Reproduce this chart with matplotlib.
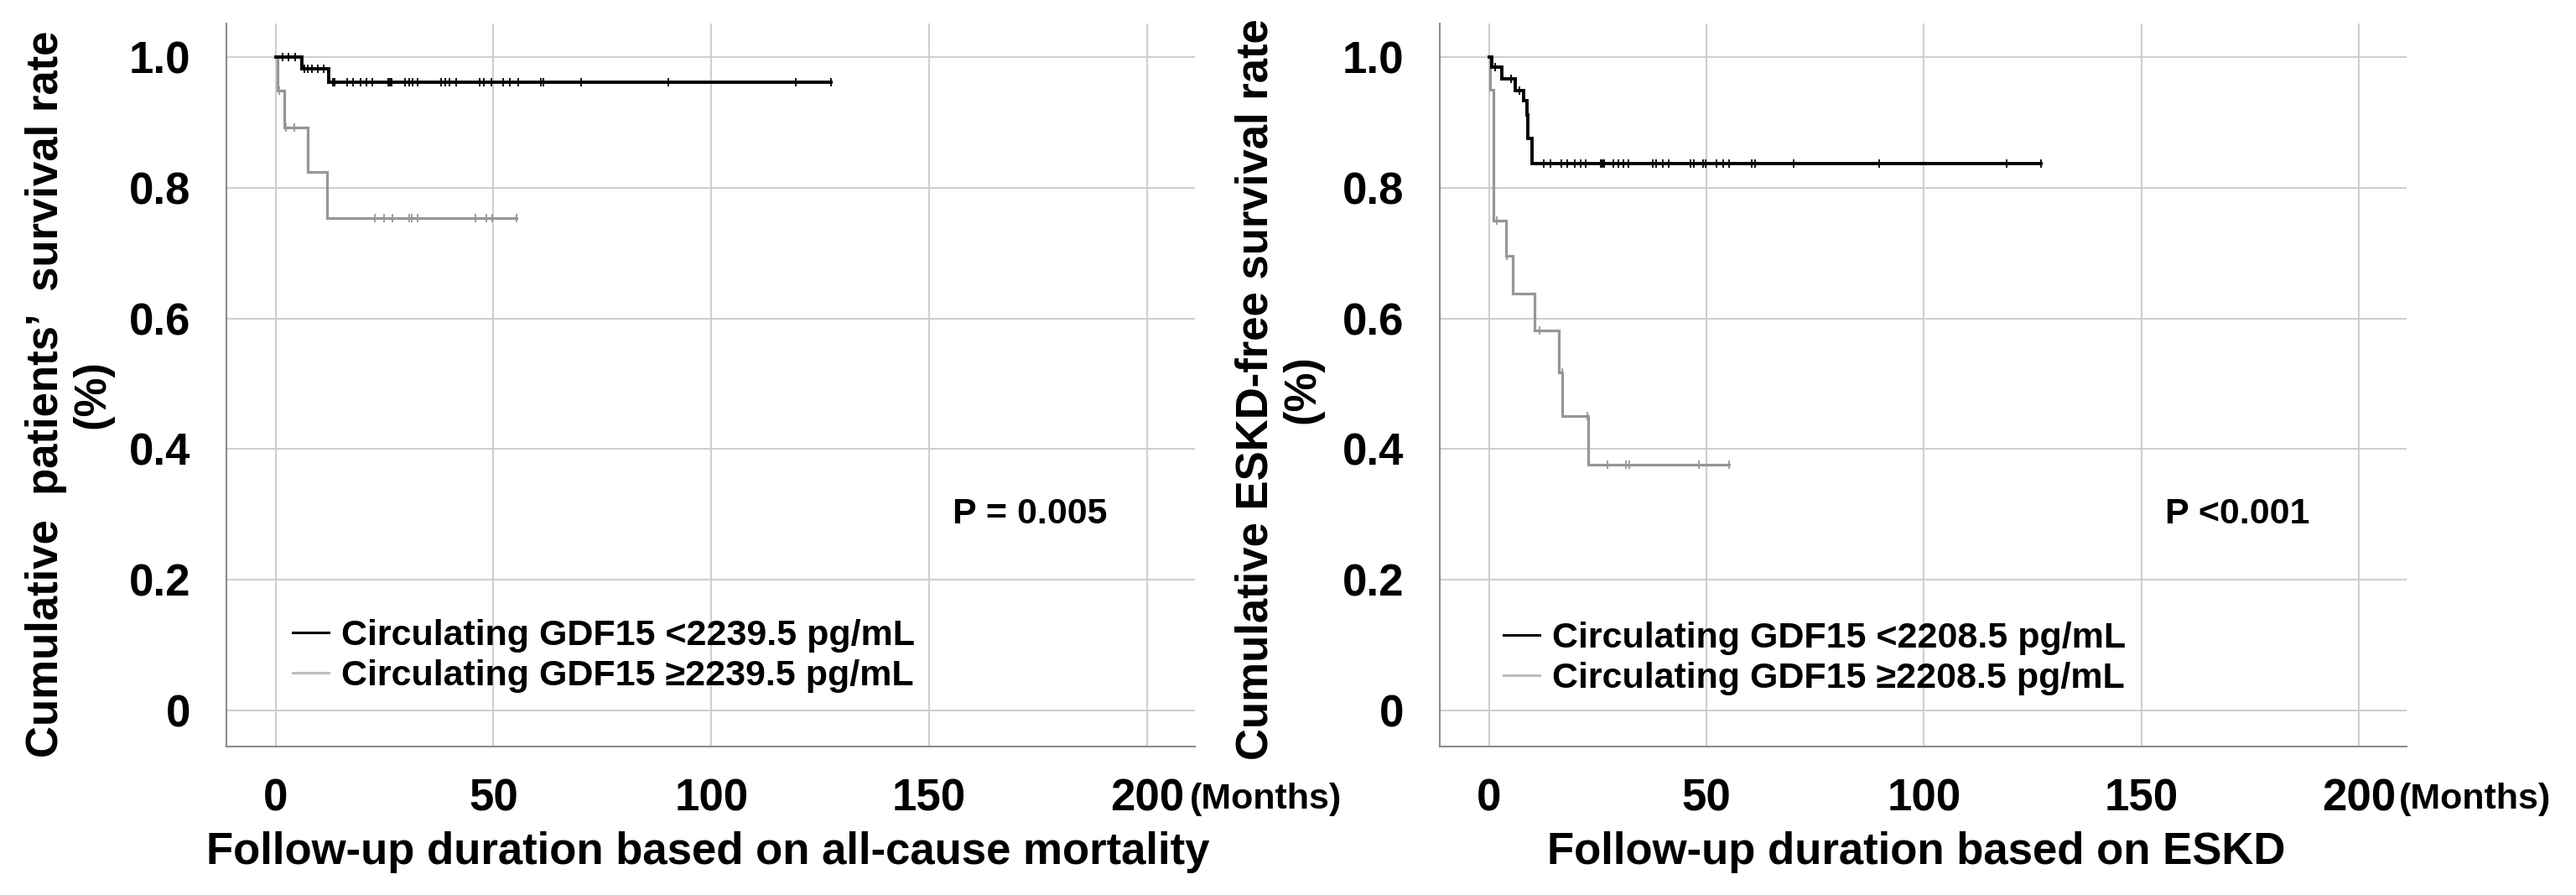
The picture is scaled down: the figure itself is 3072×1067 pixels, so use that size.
import matplotlib
matplotlib.use('Agg')
import matplotlib.pyplot as plt
from matplotlib.lines import Line2D
import numpy as np

plt.rcParams['font.family'] = ['Liberation Sans', 'DejaVu Sans']
plt.rcParams['font.weight'] = 'bold'

# ---------------- data ----------------
x_ticks = [0, 50, 100, 150, 200]
y_ticks = [0, 0.2, 0.4, 0.6, 0.8, 1.0]
y_tick_labels = ['0', '0.2', '0.4', '0.6', '0.8', '1.0']

# Panel A: all-cause mortality
a_low_times = [0, 6.0, 12.1]
a_low_surv = [1.0, 0.982, 0.962]
a_low_end = 127.4
a_low_cens = [1.5, 2.9, 4.4, 6.6, 7.3, 8.4, 9.7, 11.1, 13.1, 13.5, 16.4, 17.8,
              19.4, 20.9, 22.2, 25.9, 26.3, 26.6, 29.6, 30.6, 31.5, 32.5, 37.9,
              38.9, 39.9, 41.4, 46.8, 47.8, 49.6, 52.2, 53.7, 55.7, 60.8, 61.4,
              70.1, 90.1, 119.3, 127.4]

a_high_times = [0, 0.5, 2.0, 7.4, 11.8]
a_high_surv = [1.0, 0.948, 0.892, 0.824, 0.754]
a_high_end = 55.2
a_high_cens = [0.8, 2.3, 4.2, 22.7, 24.8, 26.9, 30.6, 31.2, 32.5, 45.8, 48.3,
               49.8, 55.2]

# Panel B: ESKD
b_low_times = [0, 0.65, 2.9, 6.1, 7.9, 8.7, 9.0, 10.0]
b_low_surv = [1.0, 0.984, 0.967, 0.949, 0.933, 0.912, 0.875, 0.837]
b_low_end = 126.9
b_low_cens = [1.5, 5.1, 7.1, 12.7, 14.2, 16.7, 18.1, 19.7, 21.0, 22.3, 25.8,
              26.1, 26.5, 28.7, 29.7, 30.9, 32.1, 37.7, 38.5, 40.0, 41.3, 46.4,
              47.2, 49.3, 49.8, 52.3, 53.8, 55.2, 60.4, 61.1, 70.0, 89.7, 119.1,
              126.9]

b_high_times = [0, 0.3, 1.0, 4.0, 5.5, 10.5, 16.1, 16.9, 22.9]
b_high_surv = [1.0, 0.95, 0.750, 0.696, 0.638, 0.581, 0.517, 0.451, 0.376]
b_high_end = 55.2
b_high_cens = [1.9, 4.2, 11.7, 16.8, 22.6, 27.2, 31.5, 32.2, 48.2, 55.2]

a_labels = ['Circulating GDF15 <2239.5 pg/mL', 'Circulating GDF15 \u22652239.5 pg/mL']
b_labels = ['Circulating GDF15 <2208.5 pg/mL', 'Circulating GDF15 \u22652208.5 pg/mL']
a_ylabel = 'Cumulative  patients\u2019  survival rate\n(%)'
b_ylabel = 'Cumulative ESKD-free survival rate\n(%)'
a_xlabel = 'Follow-up duration based on all-cause mortality'
b_xlabel = 'Follow-up duration based on ESKD'
a_p = 'P = 0.005'
b_p = 'P <0.001'

# ---------------- styling ----------------
W, H = 3072, 1067
BLACK = '#000000'
GRAY = '#999595'
LEG_GRAY = '#bdbdbd'
GRID = '#cfcfcf'
SPINE = '#8c8c8c'
FS_BIG = 38
FS_MED = 31


def km(ax, times, surv, end, cens, color, lw):
    xs = list(times) + [end]
    ys = list(surv) + [surv[-1]]
    ax.step(xs, ys, where='post', color=color, lw=lw, solid_joinstyle='miter')
    t = np.asarray(times)
    s = np.asarray(surv)
    c = np.asarray(cens)
    idx = np.searchsorted(t, c, side='right') - 1
    ax.plot(c, s[idx], ls='none', marker='|', ms=7, mew=1.3, color=color)


def panel(ax, low, high, labels, ylabel, xlabel, ptxt, ylab_xy, xlab_xy, leg_xy, months_x):
    ax.set_xlim(-11.3, 211)
    ax.set_ylim(-0.0552, 1.0513)
    ax.set_xticks(x_ticks)
    ax.set_yticks(y_ticks)
    ax.set_yticklabels(y_tick_labels)
    for lab in ax.get_xticklabels() + ax.get_yticklabels():
        lab.set_fontweight('bold')
    ax.tick_params(axis='both', length=0, labelsize=FS_BIG)
    ax.tick_params(axis='y', pad=31)
    ax.tick_params(axis='x', pad=27)
    ax.grid(True, color=GRID, lw=1.5)
    ax.set_axisbelow(True)
    for s in ['top', 'right']:
        ax.spines[s].set_visible(False)
    for s in ['left', 'bottom']:
        ax.spines[s].set_color(SPINE)
        ax.spines[s].set_linewidth(1.5)

    km(ax, *high, GRAY, 2.3)
    km(ax, *low, BLACK, 2.8)

    ax.set_ylabel(ylabel, fontsize=FS_BIG, fontweight='bold', linespacing=1.15)
    ax.yaxis.set_label_coords(*ylab_xy)
    ax.yaxis.label.set_va('center')
    ax.set_xlabel(xlabel, fontsize=FS_BIG, fontweight='bold')
    ax.xaxis.set_label_coords(*xlab_xy)
    ax.xaxis.label.set_va('center')

    ax.text(155.4, 0.30, ptxt, fontsize=FS_MED, fontweight='bold', ha='left', va='center')

    handles = [Line2D([0], [0], color=BLACK, lw=2.2), Line2D([0], [0], color=LEG_GRAY, lw=2.2)]
    ax.legend(handles, labels, loc='lower left', bbox_to_anchor=leg_xy, frameon=False,
              prop={'size': FS_MED, 'weight': 'bold'}, handlelength=1.0,
              handletextpad=0.35, labelspacing=0.2, borderpad=0, borderaxespad=0)

    fig.text(months_x / W, 1 - 964 / H, '(Months)', fontsize=FS_MED, fontweight='bold',
             ha='left', va='baseline')


fig = plt.figure(figsize=(W / 100, H / 100), dpi=100)
bottom = 1 - 890 / H
height = (890 - 28) / H
ax1 = fig.add_axes([270 / W, bottom, (1425 - 270) / W, height])
ax2 = fig.add_axes([1717 / W, bottom, (2870 - 1717) / W, height])

panel(ax1, (a_low_times, a_low_surv, a_low_end, a_low_cens),
      (a_high_times, a_high_surv, a_high_end, a_high_cens),
      a_labels, a_ylabel, a_xlabel, a_p,
      (-0.162, 0.487), (0.497, -0.146), (0.0684, 0.0737), 1419)
panel(ax2, (b_low_times, b_low_surv, b_low_end, b_low_cens),
      (b_high_times, b_high_surv, b_high_end, b_high_cens),
      b_labels, b_ylabel, b_xlabel, b_p,
      (-0.1665, 0.494), (0.4926, -0.146), (0.0659, 0.0702), 2861)

fig.savefig('out.png', dpi=100)
